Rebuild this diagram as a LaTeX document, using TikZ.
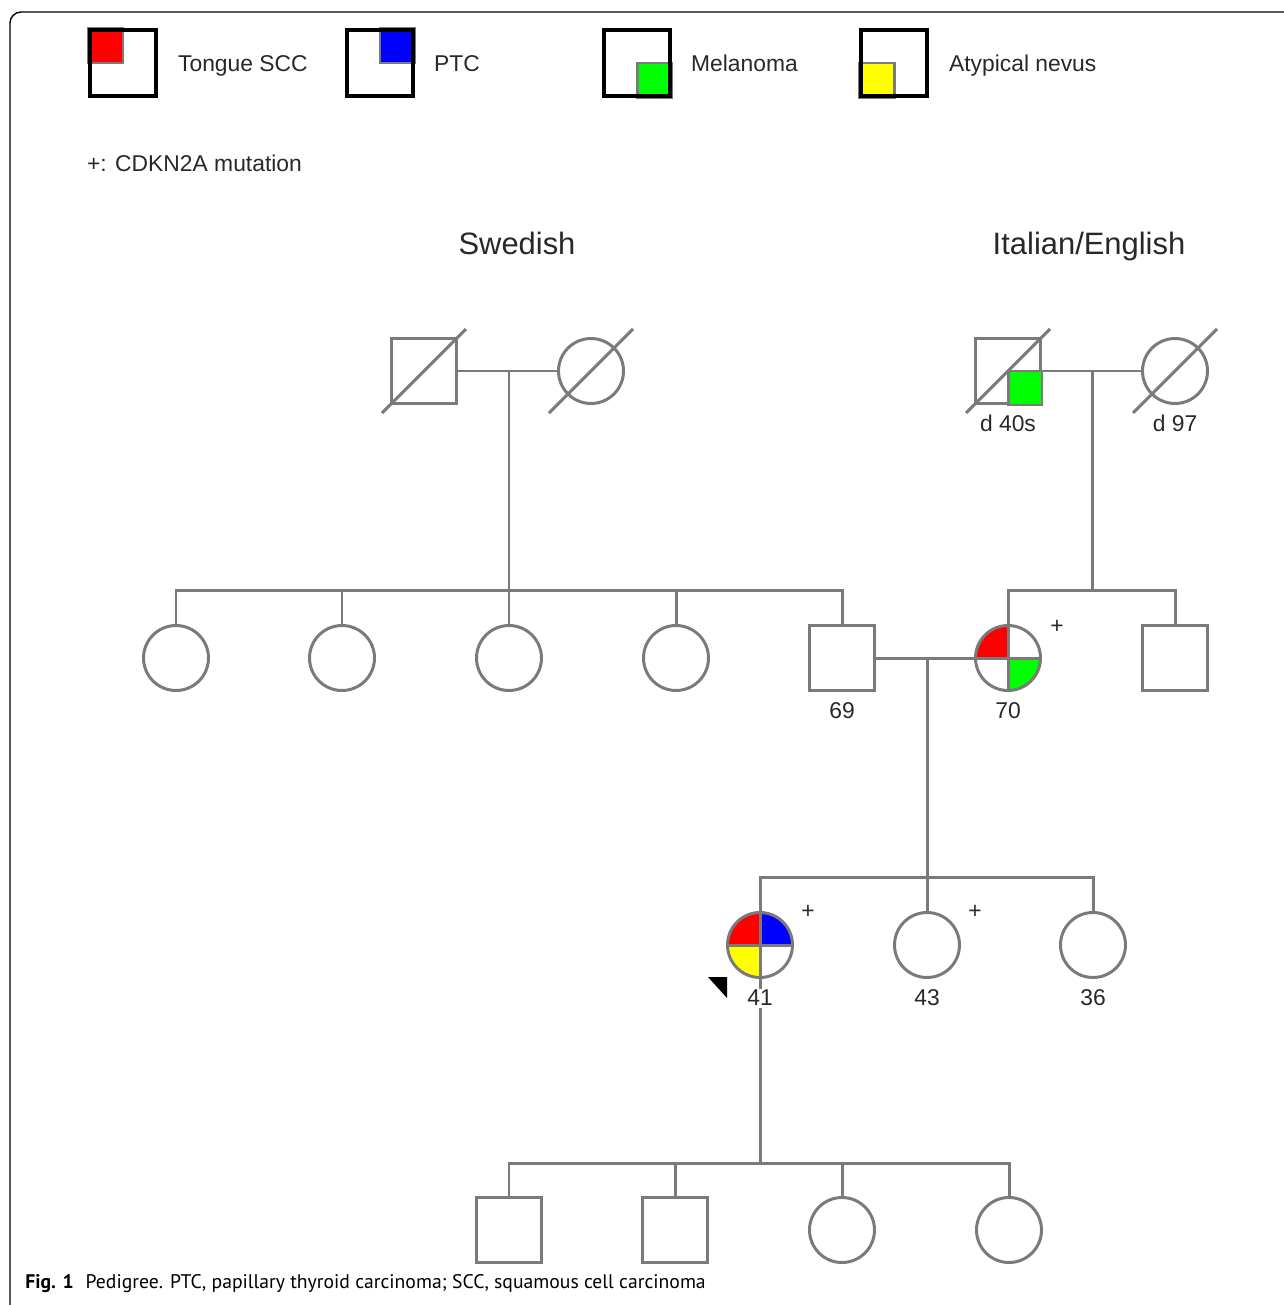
\documentclass[tikz,border=0pt]{standalone}
\usepackage{fontspec}
\setmainfont{Liberation Sans}
\newfontfamily\capfont{PT Sans}
\usetikzlibrary{backgrounds}

\definecolor{pedgray}{RGB}{122,122,122}
\definecolor{inkgray}{RGB}{40,40,40}
\definecolor{affgreen}{RGB}{0,255,0}
\definecolor{affyellow}{RGB}{255,255,0}

\tikzset{
  line/.style={draw=pedgray, line width=1.7pt},
  male/.style={rectangle, line, minimum size=1.3cm, inner sep=0pt},
  female/.style={circle, line, minimum size=1.3cm, inner sep=0pt},
  keybox/.style={rectangle, draw=black, line width=2pt, minimum size=1.32cm, inner sep=0pt},
  lbl/.style={text=inkgray, font=\fontsize{13}{15}\selectfont, inner sep=1pt},
  age/.style={lbl, anchor=base, yshift=-0.54cm},
  big/.style={text=inkgray, font=\fontsize{17.6}{20}\selectfont, anchor=base},
}

% quarter of a circle symbol: node, colour, far corner
\newcommand{\affq}[3]{%
  \begin{scope}
    \clip (#1.center) circle[radius=0.65cm];
    \fill[#2] (#1.center) rectangle +#3;
  \end{scope}}

\begin{document}
\begin{tikzpicture}[x=0.02cm, y=-0.02cm]
\useasboundingbox (0,0) rectangle (1284,1305);
\draw[black, line width=0.8pt, rounded corners=0.22cm] (1300,12) -- (10,12) -- (10,1320);

% Legend
\path
(123,63) node[keybox] (lg1) {}
(380,63) node[keybox] (lg2) {}
(637,63) node[keybox] (lg3) {}
(894,63) node[keybox] (lg4) {}
(176,71) node[lbl, anchor=base west] (lt1) {Tongue SCC}
(432,71) node[lbl, anchor=base west] (lt2) {PTC}
(689,71) node[lbl, anchor=base west] (lt3) {Melanoma}
(947,71) node[lbl, anchor=base west] (lt4) {Atypical nevus}
(85,171) node[lbl, anchor=base west] (plus) {+: CDKN2A mutation}
;
\begin{scope}[on background layer]
\filldraw[line, fill=red] (lg1.north west) rectangle (lg1.center);
\filldraw[line, fill=blue] (lg2.north east) rectangle (lg2.center);
\filldraw[line, fill=affgreen] (lg3.south east) rectangle (lg3.center);
\filldraw[line, fill=affyellow] (lg4.south west) rectangle (lg4.center);
\end{scope}

\path
(517,254) node[big] (swe) {Swedish}
(1089,254) node[big] (ita) {Italian/English}
;

% Generation I
\path
(424,371) node[male] (sw1) {}
(591,371) node[female] (sw2) {}
(1008,371) node[male] (it1) {}
(1175,371) node[female] (it2) {}
(it1.south) node[age] (d40) {d 40s}
(it2.south) node[age] (d97) {d 97}
;
\filldraw[line, fill=affgreen] (it1.south east) rectangle (it1.center);
\draw[line]
(sw1.center) +(-42,42) -- +(42,-42)
(sw2.center) +(-42,42) -- +(42,-42)
(it1.center) +(-42,42) -- +(42,-42)
(it2.center) +(-42,42) -- +(42,-42)
;

% Generation II
\path
(176,658) node[female] (s1) {}
(342,658) node[female] (s2) {}
(509,658) node[female] (s3) {}
(676,658) node[female] (s4) {}
(842,658) node[male] (f69) {}
(1008,658) node[female] (m70) {}
(1175,658) node[male] (u1) {}
;
\begin{scope}[on background layer]
\affq{m70}{red}{(-40,-40)}
\affq{m70}{affgreen}{(40,40)}
\end{scope}
\draw[line] (m70.north) -- (m70.south) (m70.west) -- (m70.east);

% Generation III
\path
(760,945) node[female] (c41) {}
(927,945) node[female] (c43) {}
(1093,945) node[female] (c36) {}
;
\begin{scope}[on background layer]
\affq{c41}{red}{(-40,-40)}
\affq{c41}{blue}{(40,-40)}
\affq{c41}{affyellow}{(-40,40)}
\end{scope}
\draw[line] (c41.north) -- (c41.south) (c41.west) -- (c41.east);
\fill[black] (c41.center) +(-52,32) -- +(-33,32) -- +(-33,53) -- cycle;

% Generation IV
\path
(509,1230) node[male] (k1) {}
(675,1230) node[male] (k2) {}
(842,1230) node[female] (k3) {}
(1009,1230) node[female] (k4) {}
;

% Lines of descent
\coordinate (swm) at (509,371);
\coordinate (swsib) at (509,590);
\coordinate (itm) at (1092,371);
\coordinate (itsib) at (1092,590);
\coordinate (pm) at (927,658);
\coordinate (psib) at (927,877);
\coordinate (gsib) at (760,1163);

\draw[line]
(sw1.east) -- (sw2.west)
(it1.east) -- (it2.west)
(swm) -- (swsib)
(itm) -- (itsib)
(s1.north) |- (swsib) -| (f69.north)
(s2.north) -- (s2.north |- swsib)
(s3.north) -- (s3.north |- swsib)
(s4.north) -- (s4.north |- swsib)
(m70.north) |- (itsib) -| (u1.north)
(f69.east) -- (m70.west)
(pm) -- (psib)
(c41.north) |- (psib) -| (c36.north)
(c43.north) -- (psib)
(c41.south) -- (gsib)
(k1.north) |- (gsib) -| (k4.north)
(k2.north) -- (k2.north |- gsib)
(k3.north) -- (k3.north |- gsib)
;

% Ages and carriers
\path
(f69.south) node[age] (a69) {69}
(m70.south) node[age] (a70) {70}
(c41.south) node[age, fill=white] (a41) {41}
(c43.south) node[age] (a43) {43}
(c36.south) node[age] (a36) {36}
(1057,627) node[lbl] (p70) {+}
(808,912) node[lbl] (p41) {+}
(975,912) node[lbl] (p43) {+}
;

% Caption
\node[anchor=west, inner sep=0pt, font=\capfont\fontsize{11.2}{13}\selectfont] (cap) at (25,1284)
{\textbf{Fig. 1}\hspace{0.6em}Pedigree. PTC, papillary thyroid carcinoma; SCC, squamous cell carcinoma};
\end{tikzpicture}
\end{document}
